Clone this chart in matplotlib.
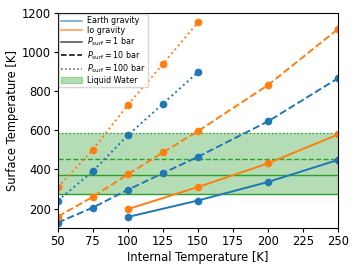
import matplotlib
matplotlib.use("Agg")
import matplotlib.pyplot as plt
from matplotlib.lines import Line2D
from matplotlib.patches import Patch

# Temperaturas internas [K]
t_int_1bar = [100, 150, 200, 250]
t_int_10bar = [50, 75, 100, 125, 150, 200, 250]
t_int_100bar = [50, 75, 100, 125, 150]

# Temperaturas de superficie [K]
earth_1bar = [157, 241, 336, 449]
io_1bar = [197, 310, 431, 579]
earth_10bar = [128, 205, 296, 381, 465, 646, 867]
io_10bar = [159, 260, 375, 487, 596, 832, 1119]
earth_100bar = [241, 391, 575, 736, 898]
io_100bar = [309, 501, 731, 940, 1153]

# Agua liquida: congelacion y ebullicion a 1, 10, 100 bar
t_freeze = 273
t_boil = [373, 454, 584]

fs = 8.3

fig = plt.figure(figsize=(3.57, 2.68), dpi=100)
ax = fig.add_axes([0.162, 0.149, 0.785, 0.802])

ax.fill_between([50, 250], t_freeze, max(t_boil), color="C2", alpha=0.35, lw=0)
ax.axhline(t_freeze, color="C2", ls="-", lw=1)
for tb, ls in zip(t_boil, ["-", "--", ":"]):
    ax.axhline(tb, color="C2", ls=ls, lw=1)

ms = 4.5
lw = 1.4
ax.plot(t_int_1bar, earth_1bar, "-o", color="C0", ms=ms, lw=lw)
ax.plot(t_int_1bar, io_1bar, "-o", color="C1", ms=ms, lw=lw)
ax.plot(t_int_10bar, earth_10bar, "--o", color="C0", ms=ms, lw=lw)
ax.plot(t_int_10bar, io_10bar, "--o", color="C1", ms=ms, lw=lw)
ax.plot(t_int_100bar, earth_100bar, ":o", color="C0", ms=ms, lw=lw)
ax.plot(t_int_100bar, io_100bar, ":o", color="C1", ms=ms, lw=lw)

ax.set_xlim(50, 250)
ax.set_ylim(100, 1200)
ax.set_xticks([50, 75, 100, 125, 150, 175, 200, 225, 250])
ax.set_yticks([200, 400, 600, 800, 1000, 1200])
ax.set_xlabel("Internal Temperature [K]", fontsize=fs, labelpad=2)
ax.set_ylabel("Surface Temperature [K]", fontsize=fs, labelpad=2)
ax.tick_params(labelsize=fs, length=3, pad=2)

hlw = 1.1
handles = [
    Line2D([], [], color="C0", lw=hlw, alpha=0.7),
    Line2D([], [], color="C1", lw=hlw, alpha=0.8),
    Line2D([], [], color="k", ls="-", lw=hlw, alpha=0.7),
    Line2D([], [], color="k", ls="--", lw=hlw),
    Line2D([], [], color="k", ls=":", lw=hlw, alpha=0.7),
    Patch(color="C2", alpha=0.35),
]
labels = ["Earth gravity", "Io gravity",
          r"$P_{\rm surf} = 1$ bar", r"$P_{\rm surf} = 10$ bar",
          r"$P_{\rm surf} = 100$ bar", "Liquid Water"]
ax.legend(handles, labels, loc="upper left", fontsize=5.8, labelspacing=0.1,
          borderaxespad=0.1, borderpad=0.3, handlelength=2.6, handletextpad=0.6)

fig.savefig("out.png", dpi=100)
